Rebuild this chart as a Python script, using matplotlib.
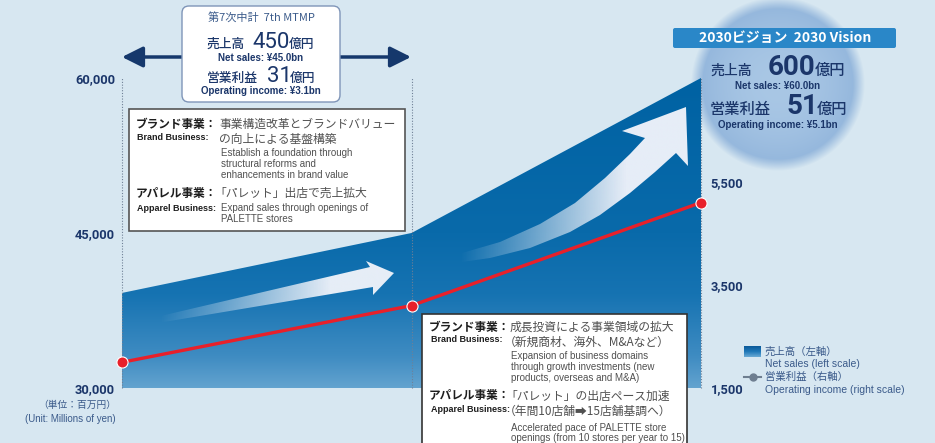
import numpy as np
import matplotlib
matplotlib.use('Agg')
import matplotlib.pyplot as plt
from matplotlib.patches import Polygon, Rectangle, FancyBboxPatch
from matplotlib.colors import LinearSegmentedColormap, to_rgb
import warnings
warnings.filterwarnings('ignore')

# ---------------- data ----------------
periods = ['Start', '7th MTMP', '2030 Vision']
net_sales = [39200, 45000, 60000]          # millions of yen (left scale)
operating_income = [2000, 3100, 5100]      # millions of yen (right scale)
left_ticks = [30000, 45000, 60000]
left_labels = ['30,000', '45,000', '60,000']
right_ticks = [1500, 3500, 5500]
right_labels = ['1,500', '3,500', '5,500']

# ---------------- figure ----------------
W, H = 935, 443
fig = plt.figure(figsize=(W / 100, H / 100), dpi=100)
BG = '#d7e7f1'
fig.patch.set_facecolor(BG)

JP = ['Noto Sans CJK JP', 'DejaVu Sans']
EN = ['Liberation Sans', 'DejaVu Sans']
NUM = ['Roboto', 'DejaVu Sans']
NAVY = '#1b366a'
GRAYTXT = '#505050'
BLUETXT = '#3a5a8a'

# background overlay (pixel coordinates): soft glow circle
bg = fig.add_axes([0, 0, 1, 1], zorder=0)
bg.axis('off')
bg.set_autoscale_on(False)
cx, cy, rad = 778, 84, 80
gx0, gx1, gy0, gy1 = cx - 100, cx + 100, 0, cy + 100
gxx, gyy = np.meshgrid(np.arange(gx0, gx1) + 0.5, np.arange(gy0, gy1) + 0.5)
d = np.hypot(gxx - cx, gyy - cy)
t = np.clip(d / rad, 0, 1) ** 2
c_in = np.array(to_rgb('#a9c7e5'))
c_out = np.array(to_rgb('#93b6dc'))
glow = np.zeros(d.shape + (4,))
glow[..., :3] = c_in * (1 - t[..., None]) + c_out * t[..., None]
glow[..., 3] = np.clip((rad + 7 - d) / 12, 0, 1)
bg.imshow(glow, extent=[gx0, gx1, gy1, gy0], interpolation='bilinear', zorder=1)
bg.set_xlim(0, W)
bg.set_ylim(H, 0)

# ---------------- main axes ----------------
L, R, T, B = 122, 701, 78, 388
ax = fig.add_axes([L / W, 1 - B / H, (R - L) / W, (B - T) / H], zorder=1)
ax.patch.set_alpha(0)
x = np.arange(len(periods))

poly = ax.fill_between(x, net_sales, left_ticks[0], facecolor='none', edgecolor='none')
cmap = LinearSegmentedColormap.from_list('area', [
    (0.0, '#0062a3'), (0.5, '#096aaa'), (0.7, '#1673b2'),
    (0.9, '#3f8cc2'), (1.0, '#63a3cf')])
grad = np.linspace(0, 1, 256).reshape(-1, 1)
im = ax.imshow(grad, extent=[x[0], x[-1], left_ticks[0], left_ticks[-1]],
               aspect='auto', origin='upper', cmap=cmap, zorder=1,
               interpolation='bilinear')
im.set_clip_path(poly.get_paths()[0], transform=ax.transData)
ax.set_xlim(x[0], x[-1])
ax.set_ylim(left_ticks[0], left_ticks[-1])

for xi in x:
    ax.axvline(xi, color='#6f8096', lw=0.8, ls=(0, (1, 1.5)), zorder=3, clip_on=False)

ax2 = ax.twinx()
ax2.set_ylim(1500, 7519)
ax2.plot(x, operating_income, color='#e8202a', lw=2.4, marker='o', ms=8,
         mfc='#e8202a', mec='white', mew=0.8, zorder=5, clip_on=False)

for a in (ax, ax2):
    for s in a.spines.values():
        s.set_visible(False)
    a.tick_params(length=0)
ax.set_xticks([])
ax.set_yticks(left_ticks, left_labels)
ax.tick_params(axis='y', pad=5, labelcolor=NAVY)
ax2.set_yticks(right_ticks, right_labels)
ax2.tick_params(axis='y', pad=7, labelcolor=NAVY)
for lbl in ax.get_yticklabels() + ax2.get_yticklabels():
    lbl.set_family(NUM)
    lbl.set_weight('bold')
    lbl.set_fontsize(9.3)

# ---------------- foreground overlay (pixel coordinates) ----------------
fg = fig.add_axes([0, 0, 1, 1], zorder=3)
fg.axis('off')
fg.set_autoscale_on(False)
fg.set_xlim(0, W)
fg.set_ylim(H, 0)


def grad_arrow(pts, x0, x1, color='#e6edf7', amax=1.0):
    p = Polygon(pts, closed=True, fc='none', ec='none')
    fg.add_patch(p)
    xs = [q[0] for q in pts]
    ys = [q[1] for q in pts]
    n = 256
    xx = np.linspace(min(xs), max(xs), n)
    alpha = np.clip((xx - x0) / (x1 - x0), 0, 1) * amax
    rgba = np.zeros((2, n, 4))
    rgba[..., :3] = to_rgb(color)
    rgba[..., 3] = alpha
    img = fg.imshow(rgba, extent=[min(xs), max(xs), max(ys), min(ys)],
                    aspect='auto', interpolation='bilinear', zorder=2)
    img.set_clip_path(p)


grad_arrow([(152, 318), (370, 267), (366, 261), (394, 273), (373, 295),
            (373, 287), (152, 324)], 160, 330)
grad_arrow([(455, 255), (500, 242), (540, 224), (575, 203), (605, 178), (630, 154),
            (645, 138), (622, 131), (686, 107), (688, 166), (676, 153), (655, 172),
            (630, 193), (600, 215), (570, 232), (530, 248), (490, 258), (455, 263)],
           460, 625)


def T(s, px, py, size=8, fam=JP, weight='normal', color=GRAYTXT, ha='left', va='center'):
    fg.text(px, py, s, fontsize=size, family=fam, weight=weight, color=color,
            ha=ha, va=va, zorder=6)


# top double arrow
fg.annotate('', xy=(411, 57), xytext=(122, 57),
            arrowprops=dict(arrowstyle='<|-|>,head_length=0.9,head_width=0.45',
                            color='#15386c', lw=2.5, shrinkA=0, shrinkB=0,
                            mutation_scale=14), zorder=4)

# 7th MTMP box
fg.add_patch(FancyBboxPatch((182, 6), 158, 96, boxstyle='round,pad=0,rounding_size=7',
                            fc='white', ec='#7f95b8', lw=1, zorder=5))
T('第7次中計  7th MTMP', 261, 18, 8, color=BLUETXT, ha='center')
T('売上高', 207, 48, 9.2, color=NAVY, va='baseline', weight='medium')
T('450', 252, 48, 16, fam=NUM, color=NAVY, va='baseline')
T('億円', 289, 48, 9.2, color=NAVY, va='baseline', weight='medium')
T('Net sales: ¥45.0bn', 261, 58, 7, fam=EN, weight='bold', color=NAVY, ha='center')
T('営業利益', 207, 82, 9.2, color=NAVY, va='baseline', weight='medium')
T('31', 267, 82, 16, fam=NUM, color=NAVY, va='baseline')
T('億円', 290, 82, 9.2, color=NAVY, va='baseline', weight='medium')
T('Operating income: ¥3.1bn', 261, 91, 7, fam=EN, weight='bold', color=NAVY, ha='center')

# brand box 1
BOLDJP = '#1e1e1e'
fg.add_patch(Rectangle((129, 109), 276, 122, fc='white', ec='#555555', lw=1.2, zorder=5))
T('ブランド事業：', 136, 124, 8.4, weight='bold', color=BOLDJP)
T('事業構造改革とブランドバリュー', 219, 124, 8.5)
T('Brand Business:', 137, 138, 6.5, fam=EN, weight='bold', color=BOLDJP)
T('の向上による基盤構築', 219, 140, 8.5)
T('Establish a foundation through', 221, 153, 7, fam=EN)
T('structural reforms and', 221, 164, 7, fam=EN)
T('enhancements in brand value', 221, 175, 7, fam=EN)
T('アパレル事業：', 136, 193, 8.4, weight='bold', color=BOLDJP)
T('「パレット」出店で売上拡大', 214, 193, 8.5)
T('Apparel Business:', 137, 208, 6.5, fam=EN, weight='bold', color=BOLDJP)
T('Expand sales through openings of', 221, 208, 7, fam=EN)
T('PALETTE stores', 221, 219, 7, fam=EN)

# brand box 2
fg.add_patch(Rectangle((422, 314), 265, 140, fc='white', ec='#333333', lw=1.2, zorder=5))
T('ブランド事業：', 429, 327, 8.4, weight='bold', color=BOLDJP)
T('成長投資による事業領域の拡大', 510, 327, 8.5)
T('Brand Business:', 431, 340, 6.5, fam=EN, weight='bold', color=BOLDJP)
T('（新規商材、海外、M&Aなど）', 504, 342, 8.5)
T('Expansion of business domains', 511, 356, 7, fam=EN)
T('through growth investments (new', 511, 367, 7, fam=EN)
T('products, overseas and M&A)', 511, 378, 7, fam=EN)
T('アパレル事業：', 429, 396, 8.4, weight='bold', color=BOLDJP)
T('「パレット」の出店ペース加速', 505, 396, 8.5)
T('Apparel Business:', 431, 410, 6.5, fam=EN, weight='bold', color=BOLDJP)
T('（年間10店舗➡15店舗基調へ）', 504, 411, 8.5)
T('Accelerated pace of PALETTE store', 511, 428, 7, fam=EN)
T('openings (from 10 stores per year to 15)', 511, 438, 7, fam=EN)

# 2030 vision
fg.add_patch(FancyBboxPatch((673, 28), 223, 20, boxstyle='round,pad=0,rounding_size=2',
                            fc='#2a87c8', ec='none', zorder=5))
T('2030ビジョン  2030 Vision', 785, 38, 10, weight='bold', color='white', ha='center')
T('売上高', 710, 75, 10, color=NAVY, va='baseline', weight='medium')
T('600', 768, 75, 20, fam=NUM, weight='bold', color=NAVY, va='baseline')
T('億円', 815, 75, 11, color=NAVY, va='baseline', weight='medium')
T('Net sales: ¥60.0bn', 778, 86, 7, fam=EN, weight='bold', color=NAVY, ha='center')
T('営業利益', 710, 114, 11, color=NAVY, va='baseline', weight='medium')
T('51', 787, 114, 20, fam=NUM, weight='bold', color=NAVY, va='baseline')
T('億円', 817, 114, 11, color=NAVY, va='baseline', weight='medium')
T('Operating income: ¥5.1bn', 778, 125, 7, fam=EN, weight='bold', color=NAVY, ha='center')

# unit labels
T('（単位：百万円）', 116, 405, 7, color=BLUETXT, ha='right')
T('(Unit: Millions of yen)', 116, 419, 7, fam=EN, color=BLUETXT, ha='right')

# legend
lg = np.linspace(0, 1, 64).reshape(-1, 1)
fg.imshow(lg, extent=[744, 761, 357, 346], aspect='auto', origin='upper',
          cmap=LinearSegmentedColormap.from_list('lg', ['#0a5a9a', '#1f78b8', '#6aaad5']),
          zorder=5)
fg.plot([744, 761], [377, 377], color='#6e7e90', lw=1.5, zorder=5)
fg.plot([752.5], [377], marker='o', ms=5, color='#6e7e90', zorder=6)
T('売上高（左軸）', 765, 352, 7.5, color=BLUETXT)
T('Net sales (left scale)', 765, 364, 7.5, fam=EN, color=BLUETXT)
T('営業利益（右軸）', 765, 377, 7.5, color=BLUETXT)
T('Operating income (right scale)', 765, 390, 7.5, fam=EN, color=BLUETXT)

fg.set_xlim(0, W)
fg.set_ylim(H, 0)

fig.savefig('out.png', dpi=100, facecolor=BG)
